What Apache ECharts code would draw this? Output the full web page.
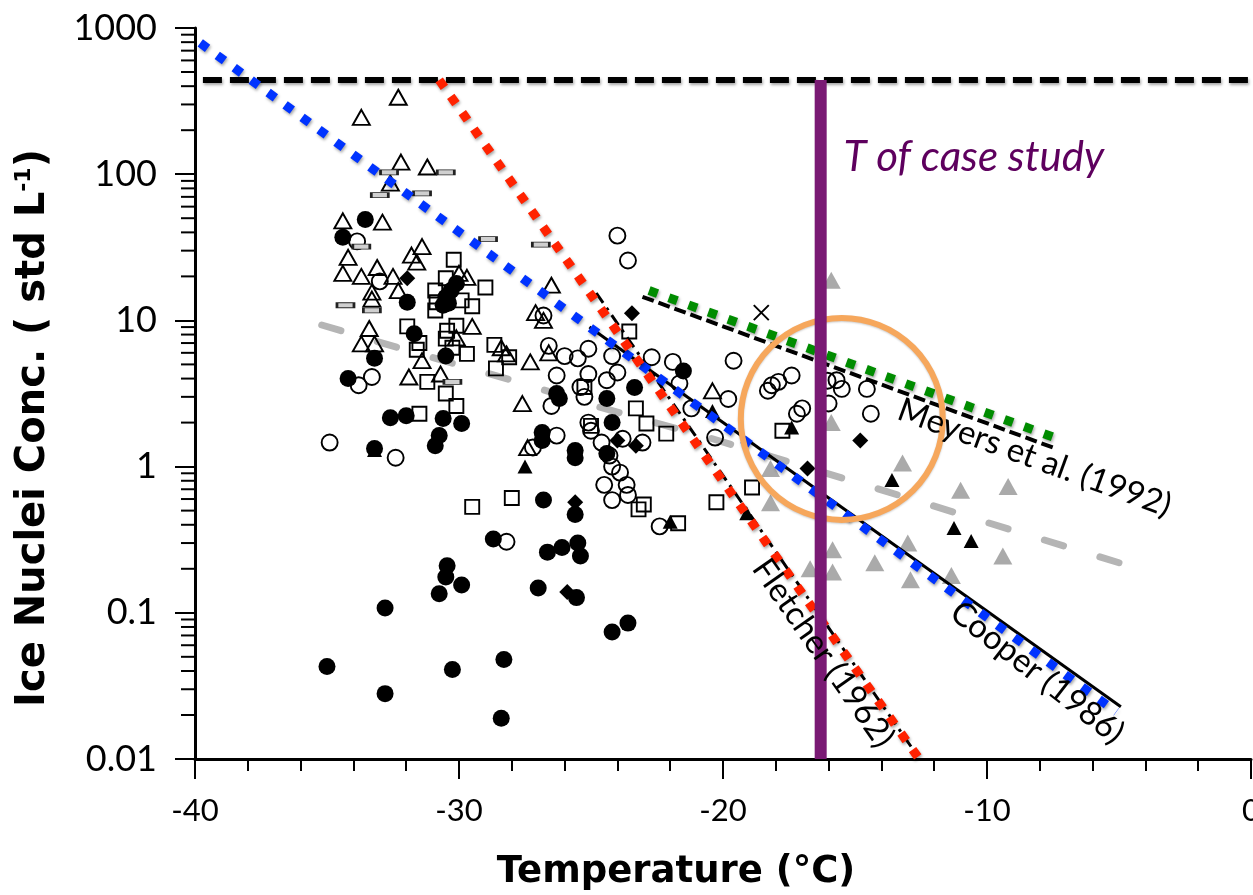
<!DOCTYPE html>
<html>
<head>
<meta charset="utf-8">
<script src="https://cdn.jsdelivr.net/npm/echarts@6/dist/echarts.min.js"></script>
<style>
html,body{margin:0;padding:0;background:#fff;}
#chart{width:1253px;height:895px;}
</style>
</head>
<body>
<div id="chart"></div>
<script>
// ---------- data ----------
const xTickValues = [-40, -30, -20, -10, 0];
const yTickValues = [0.01, 0.1, 1, 10, 100, 1000];
const yMinorTickValues = [
  0.02,0.03,0.04,0.05,0.06,0.07,0.08,0.09,
  0.2,0.3,0.4,0.5,0.6,0.7,0.8,0.9,
  2,3,4,5,6,7,8,9,
  20,30,40,50,60,70,80,90,
  200,300,400,500,600,700,800,900
];

const openTriangles = [
  [-33.7,245],[-32.3,336],[-32.2,121],[-31.2,112],[-32.6,87],[-34.4,48],[-32.9,47],
  [-34.2,27],[-34.4,21],[-33.7,20],[-33.1,23],[-32.5,20],[-31.4,32],[-31.8,28],[-31.6,25],
  [-32.3,16],[-33.3,14],[-33.3,15.6],[-33.4,8.8],[-33.7,6.9],[-33.2,6.9],[-30.0,21],[-29.7,19.7],
  [-29.5,9.1],[-30.1,7.6],[-31.4,5.3],[-31.9,4.1],[-30.7,4.3],[-28.4,6.5],[-28.2,5.9],
  [-27.3,5.2],[-27.1,11.3],[-26.5,17.4],[-26.8,10],[-26.6,6.0],[-27.6,2.7],[-27.4,1.35],[-20.4,3.3]
];
const filledCircles = [
  [-33.55,49],[-34.4,37],[-31.96,13.3],[-31.7,8.1],[-33.2,5.5],[-34.2,4.0],[-32.6,2.16],
  [-32.0,2.23],[-30.6,2.13],[-29.9,1.97],[-30.75,1.63],[-30.9,1.39],[-33.2,1.33],[-30.5,14.4],
  [-30.3,16],[-30.4,13.1],[-30.1,17.9],[-30.6,12.7],[-30.5,5.7],
  [-35.0,0.043],[-32.8,0.108],[-32.8,0.028],[-30.75,0.135],[-30.45,0.21],[-30.5,0.176],
  [-29.9,0.155],[-30.25,0.041],[-28.3,0.048],[-28.4,0.019],[-28.7,0.32],[-26.8,0.59],
  [-25.6,0.47],[-27.0,0.148],[-26.65,0.26],[-26.1,0.28],[-25.5,0.30],[-25.4,0.245],
  [-25.55,0.127],[-24.2,0.074],[-23.6,0.085],
  [-26.3,3.16],[-26.2,2.92],[-24.4,2.92],[-23.35,3.47],[-21.5,4.5],[-26.85,1.71],
  [-26.85,1.51],[-25.6,1.29],[-25.6,1.15],[-24.2,2.0],[-24.4,1.23]
];
const openCircles = [
  [-33.86,34.7],[-33.0,18.5],[-33.8,3.6],[-33.3,4.1],[-34.9,1.46],[-32.4,1.15],[-28.2,0.306],
  [-24.0,38],[-23.6,25.7],[-26.8,10.8],[-26.6,6.7],[-26.0,5.7],[-25.5,5.5],[-25.1,6.4],
  [-24.2,5.7],[-26.3,4.2],[-25.1,4.3],[-24.4,3.9],[-24.0,4.4],[-25.4,3.5],[-25.25,3.0],
  [-26.5,2.6],[-22.7,5.6],[-21.9,5.2],[-21.65,3.7],[-21.2,2.5],[-26.3,1.63],[-27.2,1.35],
  [-25.1,2.0],[-25.0,1.76],[-24.6,1.46],[-24.3,1.19],[-24.2,1.0],[-23.8,1.55],[-23.05,1.46],
  [-24.5,0.75],[-24.2,0.59],[-23.65,0.75],[-23.6,0.64],[-22.4,0.39],[-23.9,0.91],[-20.3,1.58],
  [-19.6,5.3],[-19.8,2.9],[-18.3,3.3],[-18.15,3.6],[-17.9,3.8],[-17.4,4.2],[-17.2,2.3],
  [-17.0,2.5],[-16.04,3.87],[-15.7,3.9],[-15.5,3.4],[-14.55,3.4],[-16.0,2.7],[-14.4,2.3]
];
const openSquares = [
  [-30.2,26],[-29.0,16.8],[-30.9,16],[-30.5,19.4],[-30.85,13.3],[-30.9,11.7],[-29.5,12.5],
  [-29.9,13.7],[-31.96,9.1],[-31.5,7.0],[-30.45,8.5],[-30.1,9.2],[-29.7,5.9],[-28.66,6.8],
  [-28.1,5.6],[-28.6,4.7],[-31.6,6.3],[-31.2,3.8],[-30.25,6.5],[-30.5,7.5],[-30.5,3.16],
  [-30.1,2.6],[-31.5,2.3],[-28.0,0.61],[-29.5,0.53],[-23.55,8.4],[-25.25,3.5],[-23.3,2.5],
  [-22.9,1.97],[-22.15,1.68],[-23.2,0.51],[-23.0,0.55],[-21.7,0.41],[-20.25,0.57],
  [-18.9,0.72],[-17.75,1.76],[-25.0,1.9]
];
const dashMarks = [
  [-32.65,103],[-33.0,72],[-30.5,103],[-31.4,74],[-33.7,32],[-28.9,36],[-26.9,33],
  [-34.3,12.7],[-33.3,11.7],[-30.25,3.8]
];
const filledDiamonds = [
  [-31.96,19.4],[-23.45,11.2],[-24.0,1.51],[-23.3,1.39],[-25.6,0.57],[-25.9,0.139],
  [-16.8,0.97],[-14.8,1.51]
];
const filledTriangles = [
  [-27.5,1.0],[-22.0,0.42],[-20.4,2.4],[-19.1,0.48],[-17.4,1.85],[-13.6,0.81],
  [-11.25,0.38],[-10.6,0.31],[-33.2,1.3]
];
const grayTriangles = [
  [-15.9,18.8],[-15.9,2.0],[-13.2,1.06],[-18.2,0.565],[-18.2,0.97],[-15.85,0.27],
  [-15.85,0.19],[-16.7,0.2],[-14.25,0.22],[-13.0,0.30],[-12.9,0.168],[-11.35,0.18],
  [-11.0,0.69],[-9.2,0.73],[-9.4,0.245]
];
const crossMarks = [[-18.55,11.3]];

// lines
const upperLimit = [[-39.7,441],[0,441]];
const demottFit = [[-39.8,790],[-5.1,0.021]];
const fletcherFit = [[-30.75,441],[-12.6,0.0102]];
const fletcherCurve = [[-24.8,15.4],[-12.55,0.01]];
const cooperCurve = [[-25.06,9.0],[-4.93,0.0228]];
const meyersCurve = [[-23.05,14.5],[-7.5,1.35]];
const meyersFit = [[-22.8,16],[-7.1,1.5]];
const grayFit = [[-35.2,9.3],[-32.3,6.5],[-28.0,3.9],[-24.7,2.56],[-20.6,1.59],
                 [-17.4,1.06],[-14.3,0.72],[-9.1,0.37],[-5.0,0.22]];
const caseTemperature = -16.3;
const caseLine = [[caseTemperature,441],[caseTemperature,0.01]];
const highlightCenter = [[-15.5,2.12]];

// annotation texts and anchors
const caseLabelText = 'T of case study';
const caseLabelAnchor = [-10.5,131];
const curveLabels = ['Meyers et al. (1992)','Cooper (1986)','Fletcher (1962)'];
const curveLabelAnchors = [[-8.2,1.15],[-8.1,0.039],[-16.2,0.053]];
const curveLabelAngles = [-20,-38,-55];

// ---------- chart ----------
const chart = echarts.init(document.getElementById('chart'), null, {renderer:'canvas'});
const NUMFONT = 'Lato, "DejaVu Sans", sans-serif';
const TITLEFONT = '"DejaVu Sans", Lato, sans-serif';
const lineShadow = {shadowBlur:3, shadowColor:'rgba(0,0,0,0.35)', shadowOffsetX:1, shadowOffsetY:2};

function lineSeries(data, style, z){
  return {type:'line', data:data, symbol:'none', showSymbol:false, silent:true,
          z:z, lineStyle:style, animation:false, clip:false};
}
function pointSeries(data, symbol, size, itemStyle, z){
  return {type:'scatter', data:data, symbol:symbol, symbolSize:size,
          itemStyle:Object.assign({opacity:1}, itemStyle),
          z:z, silent:true, animation:false};
}
const openStyle = {color:'rgba(255,255,255,0)', borderColor:'#000', borderWidth:1.9};
const solidStyle = {color:'#000'};

const option = {
  backgroundColor:'#fff',
  animation:false,
  grid:{left:195, right:2, top:28, bottom:136, outerBoundsMode:'none', containLabel:false},
  xAxis:{
    type:'value', min:-40, max:0, interval:10,
    axisLine:{show:true, onZero:false, lineStyle:{color:'#000', width:3}},
    axisTick:{show:true, length:20, lineStyle:{color:'#000', width:2}},
    minorTick:{show:true, splitNumber:5, length:12, lineStyle:{color:'#000', width:2}},
    splitLine:{show:false},
    axisLabel:{margin:36, color:'#000', fontSize:31, fontFamily:NUMFONT,
      formatter:function(v){ return xTickValues.indexOf(v)>=0 ? String(v) : ''; }}
  },
  yAxis:{
    type:'log', logBase:10, min:0.01, max:1000, splitNumber:5,
    axisLine:{show:true, onZero:false, lineStyle:{color:'#000', width:3}},
    axisTick:{show:true, length:20, lineStyle:{color:'#000', width:2}},
    splitLine:{show:false},
    axisLabel:{margin:38, color:'#000', fontSize:36, fontFamily:NUMFONT,
      formatter:function(v){
        for (const t of yTickValues){ if (Math.abs(v-t)/t < 1e-6) return String(t); }
        return '';
      }}
  },
  graphic:[
    {type:'text', x:676, y:872, style:{text:'Temperature (°C)', fill:'#000',
      font:'bold 37px ' + TITLEFONT, textAlign:'center', textVerticalAlign:'middle'}},
    {type:'text', x:34, y:428, rotation:Math.PI/2,
      style:{text:'{a|Ice Nuclei Conc. ( std L}{s|-1}{a|)}', fill:'#000', textAlign:'center', textVerticalAlign:'middle',
        rich:{a:{font:'bold 40px ' + TITLEFONT, fill:'#000'},
              s:{font:'bold 22px ' + TITLEFONT, fill:'#000', verticalAlign:'top', padding:[0,0,19,0]}}}}
  ],
  series:[
    // minor ticks of the log axis
    {type:'custom', silent:true, clip:false, z:5,
     data:yMinorTickValues.map(v=>[-40,v]),
     renderItem:function(params, api){
       const p = api.coord([api.value(0), api.value(1)]);
       return {type:'line', shape:{x1:p[0]-14, y1:p[1], x2:p[0]-1, y2:p[1]},
               style:{stroke:'#000', lineWidth:2}};
     }},
    lineSeries(grayFit, {color:'#b5b5b5', width:7, type:[20,38], cap:'round'}, 3),
    pointSeries(grayTriangles, 'triangle', [19,17], {color:'#aaaaaa'}, 4),
    pointSeries(openTriangles, 'triangle', [17,15], openStyle, 6),
    pointSeries(openSquares, 'rect', 14, openStyle, 6),
    pointSeries(openCircles, 'circle', 16, openStyle, 6),
    pointSeries(dashMarks, 'rect', [17,5], {color:'#d0d0d0', borderColor:'#222', borderWidth:1.5}, 6),
    pointSeries(filledCircles, 'circle', 17, solidStyle, 7),
    pointSeries(filledDiamonds, 'diamond', 16, solidStyle, 7),
    pointSeries(filledTriangles, 'triangle', [15,14], solidStyle, 7),
    pointSeries(crossMarks, 'path://M0,0L10,10M10,0L0,10', 15,
      {color:'rgba(0,0,0,0)', borderColor:'#000', borderWidth:2}, 7),
    lineSeries(fletcherCurve, {color:'#000', width:3, type:[12,6,3,6]}, 8),
    lineSeries(cooperCurve, {color:'#000', width:3}, 8),
    lineSeries(meyersCurve, {color:'#000', width:4, type:[12,5]}, 8),
    lineSeries(upperLimit, Object.assign({color:'#000', width:6, type:[19,8]}, lineShadow), 9),
    lineSeries(demottFit, Object.assign({color:'#0033ff', width:9, type:[9,12]}, lineShadow), 10),
    lineSeries(fletcherFit, Object.assign({color:'#ff2200', width:9, type:[9,11]}, lineShadow), 10),
    lineSeries(meyersFit, Object.assign({color:'#008c00', width:9, type:[9,12]}, lineShadow), 10),
    pointSeries(highlightCenter, 'circle', 202,
      {color:'rgba(0,0,0,0)', borderColor:'#f6a75c', borderWidth:6,
       shadowBlur:2, shadowColor:'rgba(0,0,0,0.2)', shadowOffsetY:1}, 11),
    lineSeries(caseLine, {color:'#7a1a74', width:12}, 12),
    {type:'scatter', silent:true, z:13, symbolSize:0, animation:false,
     itemStyle:{opacity:1},
     data:[{value:caseLabelAnchor}],
     label:{show:true, position:'inside', formatter:caseLabelText, color:'#5e005e', opacity:1,
       fontSize:42, fontStyle:'italic', fontFamily:NUMFONT}},
    {type:'scatter', silent:true, z:13, symbolSize:0, animation:false,
     itemStyle:{opacity:1},
     data:curveLabelAnchors.map((a,i)=>({value:a,
       label:{formatter:curveLabels[i], rotate:curveLabelAngles[i]}})),
     label:{show:true, position:'inside', color:'#000', opacity:1, fontSize:33, fontFamily:NUMFONT}}
  ]
};
chart.setOption(option);
</script>
</body>
</html>
